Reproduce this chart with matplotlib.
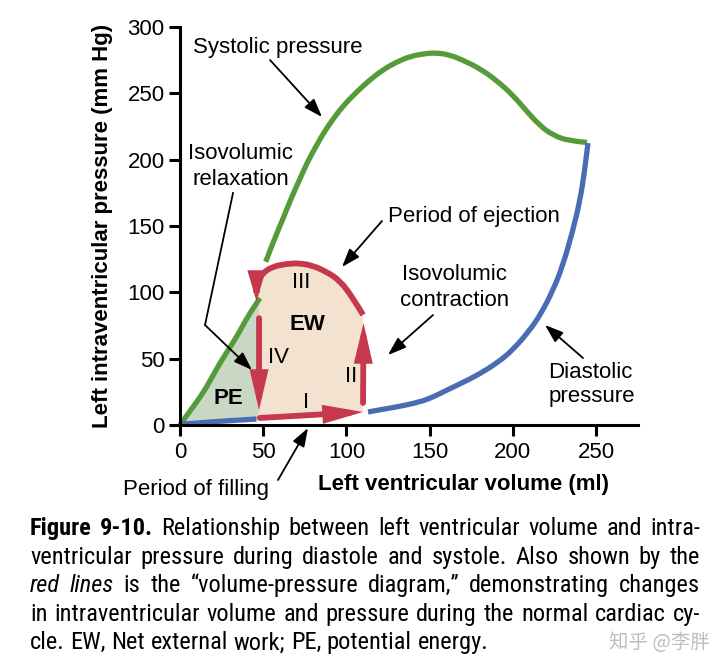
"""Left ventricular volume-pressure diagram (Guyton Fig. 9-10 style)."""

import matplotlib

matplotlib.use("Agg")
import matplotlib.pyplot as plt  # noqa: E402
from matplotlib import font_manager as fm  # noqa: E402
from matplotlib.lines import Line2D  # noqa: E402
from matplotlib.patches import PathPatch, Polygon  # noqa: E402
from matplotlib.path import Path  # noqa: E402

W, H = 720, 670

# --- data (volume ml, pressure mm Hg) ---
sys_low_vol = [0, 6, 13.8, 19, 24, 29, 34, 38, 42, 48]
sys_low_p = [0, 10.5, 24, 35.5, 46.7, 56.5, 66.5, 75.5, 84.4, 95.7]
sys_up_vol = [51.5, 56, 61.6, 66.5, 71.7, 76.5, 81.7, 86.5, 91.6, 98, 105.8, 113.5,
              121.9, 130, 138, 146, 154, 162, 170, 180, 190, 200, 208, 216, 224, 234, 244.6]
sys_up_p = [123, 138, 154.5, 170, 184.5, 198, 210, 220.5, 230, 240.5, 250.6, 259.5,
            267.7, 273.5, 277.7, 279.8, 280.6, 279, 275, 268.8, 260, 248.7, 237, 226,
            218.5, 214, 213]
dia_low_vol = [0, 15, 30, 46]
dia_low_p = [0.5, 2, 3.3, 4.5]
dia_up_vol = [113, 120, 130, 144, 152, 160.5, 170, 180, 190.5, 200, 210.3, 217,
              224.2, 230, 236.2, 240.4, 243, 245.2]
dia_up_p = [9.8, 11.5, 13.5, 17.3, 21, 26.4, 32, 38.5, 46.7, 56.5, 71.6, 84,
            101.7, 120, 147, 169.6, 190, 212.5]

# red loop: filling (I), isovolumic contraction (II), ejection (III), relaxation (IV)
fill_start, fill_end = (48, 5.3), (110, 9.8)
contr_start, contr_end = (110, 16.6), (110.3, 76.9)
eject_vol = [110, 104, 96, 88, 80, 72, 64, 56, 50, 46.5, 46]
eject_p = [83, 95.7, 109, 115.5, 120, 122, 121.5, 119.5, 115, 108, 102]
eject_end = (46, 93)
relax_start, relax_end = (47.5, 80.5), (47.5, 11.3)

x_ticks = [0, 50, 100, 150, 200, 250]
y_ticks = [0, 50, 100, 150, 200, 250, 300]
phase_labels = ["I", "II", "III", "IV"]

GREEN = "#559B3A"
BLUE = "#4A6CB2"
RED = "#C6384C"
EW_FILL = "#F3E2D0"
PE_FILL = "#CAD7C4"


def pick_font(cands, default):
    for name in cands:
        try:
            fm.findfont(fm.FontProperties(family=name), fallback_to_default=False)
            return name
        except ValueError:
            continue
    return default


SANS = pick_font(["Liberation Sans", "Arial", "Helvetica"], "DejaVu Sans")
NARROW = pick_font(["Liberation Sans Narrow", "Roboto Condensed", "Open Sans Condensed"], SANS)
plt.rcParams["font.family"] = SANS


def P(x, y):
    """Reference pixel -> figure fraction."""
    return (x / W, 1 - y / H)


def smooth(xs, ys):
    """Quadratic path through midpoints, the read points act as control points."""
    pts = list(zip(xs, ys))
    verts = [pts[0]]
    codes = [Path.MOVETO]
    for k in range(1, len(pts) - 1):
        mid = ((pts[k][0] + pts[k + 1][0]) / 2, (pts[k][1] + pts[k + 1][1]) / 2)
        if k == len(pts) - 2:
            mid = pts[-1]
        verts += [pts[k], mid]
        codes += [Path.CURVE3, Path.CURVE3]
    return Path(verts, codes)


fig = plt.figure(figsize=(7.2, 6.7), dpi=100)
ax = fig.add_axes([180 / W, 1 - 425 / H, 458 / W, 398 / H])
ax.set_xlim(0, 458 / 1.664)
ax.set_ylim(0, 300)
for s in ("top", "right"):
    ax.spines[s].set_visible(False)
for s in ("left", "bottom"):
    ax.spines[s].set_linewidth(2.2)
ax.set_xticks(x_ticks)
ax.set_yticks(y_ticks)
ax.tick_params(axis="both", direction="out", length=8, width=2.2, labelsize=16)
ax.tick_params(axis="y", pad=3)
ax.tick_params(axis="x", pad=4.5)

ax.set_xlabel("Left ventricular volume (ml)", fontsize=16, fontweight="bold")
ax.xaxis.set_label_coords((463.5 - 180) / 458, (425 - 490) / 398)
ax.xaxis.label.set_va("baseline")
ax.set_ylabel("Left intraventricular pressure (mm Hg)", fontsize=16, fontweight="bold")
ax.yaxis.set_label_coords((103 - 180) / 458, 0.5)
ax.yaxis.label.set_va("center")

# fills
ew_poly = [fill_start, fill_end, (fill_end[0], eject_p[0])] + list(zip(eject_vol, eject_p)) \
    + [eject_end, (relax_start[0], eject_end[1]), (relax_start[0], fill_start[1])]
ax.add_patch(Polygon(ew_poly, closed=True, facecolor=EW_FILL, edgecolor="none", zorder=1))
pe_poly = list(zip(sys_low_vol, sys_low_p)) + [(relax_start[0], sys_low_p[-1] - 2),
                                               (relax_start[0], fill_start[1])] \
    + list(zip(dia_low_vol[::-1], dia_low_p[::-1]))
ax.add_patch(Polygon(pe_poly, closed=True, facecolor=PE_FILL, edgecolor="none", zorder=1))


def curve(xs, ys, color, lw=3.8, z=2):
    ax.add_patch(PathPatch(smooth(xs, ys), facecolor="none", edgecolor=color, lw=lw,
                           capstyle="butt", joinstyle="round", clip_on=False, zorder=z))


curve(sys_low_vol, sys_low_p, GREEN)
curve(sys_up_vol, sys_up_p, GREEN)
curve(dia_low_vol, dia_low_p, BLUE)
curve(dia_up_vol, dia_up_p, BLUE)

red_kw = dict(arrowstyle="-|>,head_length=1.8,head_width=0.42", mutation_scale=10,
              lw=4.2, color=RED, shrinkA=0, shrinkB=0, joinstyle="miter")


def red_arrow(a, b, style=None):
    kw = dict(red_kw)
    if style:
        kw["arrowstyle"] = style
    ax.annotate("", xy=b, xytext=a, arrowprops=kw, zorder=3)


red_arrow(fill_start, fill_end)
red_arrow(contr_start, contr_end)
curve(eject_vol, eject_p, RED, lw=4.2, z=3)
red_arrow((eject_vol[-1], eject_p[-1] + 1), eject_end, "-|>,head_length=1.3,head_width=0.38")
red_arrow(relax_start, relax_end)

# phase labels and areas (centre x px, baseline y px)
txt = dict(fontsize=16, ha="center", va="baseline")
for lab, (px, py) in zip(phase_labels, [(306.5, 408), (351.5, 381.5), (301.5, 288.3), (279, 363)]):
    fig.text(*P(px, py), lab, **txt)
fig.text(*P(307.5, 330), "EW", fontweight="bold", **txt)
fig.text(*P(228, 404), "PE", fontweight="bold", **txt)

# callouts
left = dict(fontsize=16, ha="left", va="baseline")
fig.text(*P(193.3, 52.5), "Systolic pressure", **left)
fig.text(*P(240.8, 159), "Isovolumic", **txt)
fig.text(*P(240.8, 185), "relaxation", **txt)
fig.text(*P(388.3, 221.5), "Period of ejection", **left)
fig.text(*P(455, 280.5), "Isovolumic", **txt)
fig.text(*P(455, 306.5), "contraction", **txt)
fig.text(*P(548.3, 377.7), "Diastolic", **left)
fig.text(*P(548.3, 402.3), "pressure", **left)
fig.text(*P(123.3, 495), "Period of filling", **left)

blk_kw = dict(arrowstyle="-|>,head_length=0.8,head_width=0.28", mutation_scale=14,
              lw=1.3, color="black", shrinkA=0, shrinkB=0)


def callout(a, b):
    ax.annotate("", xy=P(*b), xycoords="figure fraction", xytext=P(*a),
                textcoords="figure fraction", arrowprops=blk_kw, annotation_clip=False)


callout((270, 60), (322, 117))
fig.add_artist(Line2D([233 / W, 205 / W], [1 - 193 / H, 1 - 325 / H], color="black", lw=1.3))
callout((205, 325), (252, 370))
callout((382, 221), (342, 267))
callout((433, 315), (388, 355))
callout((583, 358), (545, 325))
callout((278, 480), (308, 428))

# caption, justified word by word
caption = [
    "Figure 9-10. Relationship between left ventricular volume and intra-",
    "ventricular pressure during diastole and systole. Also shown by the",
    "red lines is the \u201cvolume-pressure diagram,\u201d demonstrating changes",
    "in intraventricular volume and pressure during the normal cardiac cy-",
    "cle. EW, Net external work; PE, potential energy.",
]
bold_words = {(0, 0), (0, 1)}
italic_words = {(2, 0), (2, 1)}
renderer = fig.canvas.get_renderer()


def word_text(i, j, w, size):
    kw = dict(family=NARROW, fontsize=size, ha="left", va="baseline")
    if (i, j) in bold_words:
        kw["fontweight"] = "bold"
    if (i, j) in italic_words:
        kw["fontstyle"] = "italic"
    return fig.text(0, 0, w, **kw)


def measure(t):
    return t.get_window_extent(renderer).width


base = 16.0
probe = [fig.text(0, 0, s, family=NARROW, fontsize=base) for s in caption[:4]]
widest = max(measure(t) for t in probe)
for t in probe:
    t.remove()
size = base * 662 / widest
sp_a = fig.text(0, 0, "x x", family=NARROW, fontsize=size)
sp_b = fig.text(0, 0, "xx", family=NARROW, fontsize=size)
space = measure(sp_a) - measure(sp_b)
sp_a.remove()
sp_b.remove()

x0, x1 = 30, 700
for i, line in enumerate(caption):
    words = line.split(" ")
    texts = [word_text(i, j, w, size) for j, w in enumerate(words)]
    widths = [measure(t) for t in texts]
    gap = (x1 - x0 - sum(widths)) / (len(words) - 1) if i < len(caption) - 1 else space
    x = x0
    yb = 535 + 28.6 * i
    for t, wd in zip(texts, widths):
        t.set_position(P(x, yb))
        x += wd + gap

fig.text(*P(710, 648), "知乎 @李胖", family=["Noto Sans CJK SC", "DejaVu Sans"],
         fontsize=14, color="#BDBDBD", ha="right", va="baseline")

fig.savefig("out.png", dpi=100, facecolor="white")
